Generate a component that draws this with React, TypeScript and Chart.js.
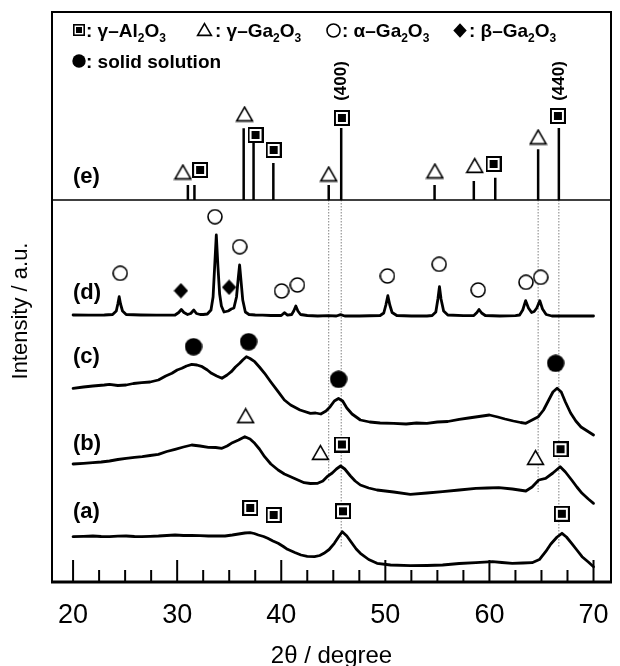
import React, { useEffect, useRef } from 'react';
import { Chart, registerables } from 'chart.js';

Chart.register(...registerables);

// ---------- axis ranges (2θ in degrees, intensity in arbitrary units) ----------
const X_MIN = 17.975;
const X_MAX = 71.68;
const Y_MIN = 0;
const Y_MAX = 570;

const xTickValues = [20, 30, 40, 50, 60, 70];
const xTickLabels = ['20', '30', '40', '50', '60', '70'];
const xMinorTicks = [22.5, 25, 27.5, 32.5, 35, 37.5, 42.5, 45, 47.5, 52.5, 55, 57.5, 62.5, 65, 67.5];

// ---------- pattern (a) ----------
const aX = [20.0, 21.0, 21.9, 22.7, 23.5, 24.3, 25.1, 25.9, 26.6, 27.4, 28.2, 29.0, 29.8, 30.6, 31.4, 32.2, 33.0, 33.8, 34.6, 35.3, 35.9, 36.5, 37.0, 37.4, 37.8, 38.3, 38.7, 39.2, 39.7, 40.2, 40.6, 41.3, 41.9, 42.5, 43.2, 43.7, 44.1, 44.6, 45.1, 45.5, 45.86, 46.3, 46.8, 47.2, 47.6, 48.4, 49.2, 50.5, 52.4, 54.0, 55.5, 57.1, 58.7, 60.3, 61.2, 62.2, 63.2, 64.1, 64.8, 65.4, 65.9, 66.5, 66.97, 67.4, 67.9, 68.4, 68.9, 69.5, 70.0];
const aY = [45.3, 45.7, 46, 45.5, 45.3, 45.8, 46, 45.5, 45.3, 45.7, 46, 46.5, 47, 46.5, 46.7, 46.3, 46, 46.2, 46, 47, 48, 49, 49.3, 48.5, 47, 45.5, 43.7, 41, 38.7, 35.5, 32.7, 29.5, 27, 25.7, 25.3, 26.5, 28.7, 32.5, 38.7, 45, 50.3, 46, 38.7, 33, 28.7, 22.5, 18.7, 17, 16.3, 16.5, 17, 18.5, 19.3, 20.3, 19.5, 18.7, 19, 19.3, 22.5, 30.3, 38, 45, 48.7, 45, 38.7, 32, 25.3, 20, 15.3];

// ---------- pattern (b) ----------
const bX = [20.0, 21.0, 21.9, 22.7, 23.5, 24.3, 25.1, 25.9, 26.65, 27.4, 28.2, 29.0, 29.8, 30.6, 31.4, 32.2, 33.0, 33.7, 34.3, 34.8, 35.2, 35.9, 36.5, 37.0, 37.45, 37.9, 38.4, 39.0, 39.7, 40.3, 40.9, 41.6, 42.2, 42.8, 43.5, 44.0, 44.4, 44.9, 45.3, 45.7, 46.1, 46.65, 47.1, 47.6, 48.4, 49.2, 50.8, 52.4, 54.0, 55.5, 57.1, 58.7, 59.8, 60.9, 62.2, 63.5, 64.1, 64.74, 65.4, 66.1, 66.8, 67.3, 67.9, 68.4, 68.9, 69.5, 70.0];
const bY = [118, 118.7, 119.3, 120, 121, 122.5, 123.7, 124.7, 125.3, 126.5, 127.7, 130.5, 132.7, 135, 137, 136, 134.7, 134.5, 133.7, 136, 138.7, 142, 145.3, 143, 138.7, 133, 125.3, 118, 112, 108, 105.3, 102, 99.3, 98.5, 98.7, 101, 105.3, 109, 113, 116, 113, 106, 101, 97, 94, 92, 90, 87.7, 89, 90.3, 92, 93.7, 94, 94.3, 93, 91, 95, 102, 103.7, 109, 115.3, 110, 102, 95, 88.7, 83, 78.7];

// ---------- pattern (c) ----------
const cX = [20.0, 21.0, 21.9, 23.0, 23.5, 24.3, 25.1, 25.8, 26.6, 27.4, 28.2, 28.9, 29.5, 30.0, 30.45, 30.9, 31.4, 31.9, 32.4, 32.9, 33.3, 33.8, 34.3, 34.8, 35.2, 35.6, 36.0, 36.3, 36.65, 37.0, 37.45, 37.9, 38.4, 39.0, 39.7, 40.3, 40.9, 41.8, 42.8, 43.3, 43.8, 44.3, 44.7, 45.1, 45.5, 45.9, 46.3, 46.8, 47.6, 48.5, 49.5, 50.8, 52.0, 53.0, 54.0, 55.0, 56.0, 57.1, 58.0, 59.0, 60.0, 60.8, 61.5, 62.3, 63.0, 63.5, 64.1, 64.7, 65.2, 65.7, 66.1, 66.5, 66.9, 67.3, 67.8, 68.3, 68.8, 69.4, 70.0];
const cY = [193.7, 195, 196, 197, 197.7, 196.5, 197, 198.5, 199.3, 200, 202, 206, 208.7, 212, 213.7, 216, 217.7, 217, 215.3, 212, 208.7, 206, 203.7, 207, 210.3, 215, 218.7, 222, 225.3, 223.5, 220.3, 215, 208.7, 200, 190.3, 182, 177, 172, 168.7, 169, 168, 171, 175.3, 181, 183.5, 181, 174, 168, 162, 160, 159, 158.7, 158, 159, 158.7, 160, 160.5, 162.7, 164, 165.5, 167, 165, 163, 161, 159.5, 158.7, 162, 165.3, 172, 182, 190, 193.7, 190, 180, 169, 161, 155, 151, 147];

// ---------- pattern (d) ----------
const dX = [20.0, 21.5, 23.0, 23.8, 24.15, 24.3, 24.43, 24.56, 24.75, 25.1, 26.5, 28.0, 29.8, 30.15, 30.4, 30.65, 31.0, 31.3, 31.6, 31.85, 32.2, 32.5, 32.9, 33.25, 33.45, 33.6, 33.76, 33.92, 34.08, 34.25, 34.5, 34.9, 35.2, 35.45, 35.7, 35.88, 36.0, 36.12, 36.3, 36.55, 36.9, 37.5, 38.2, 39.0, 40.0, 40.3, 40.6, 41.0, 41.2, 41.4, 41.6, 41.85, 42.5, 43.5, 44.5, 45.3, 45.7, 46.1, 47.5, 49.5, 49.85, 50.05, 50.24, 50.43, 50.65, 51.1, 52.5, 54.0, 54.5, 54.85, 55.05, 55.2, 55.35, 55.6, 56.0, 57.5, 58.5, 58.8, 59.0, 59.25, 59.6, 61.0, 62.5, 62.9, 63.2, 63.48, 63.75, 64.05, 64.3, 64.55, 64.84, 65.1, 65.45, 66.0, 68.0, 70.0];
const dY = [267, 266.8, 267, 267.5, 271, 278, 285.3, 278, 271, 267.5, 267, 266.8, 267, 269.5, 272.5, 269.5, 267.5, 268.5, 272, 268.5, 267.5, 267.5, 268, 272, 285, 315, 347, 315, 288, 276, 270, 271, 273, 274, 285, 305, 317, 303, 282, 270, 267.5, 267, 266.8, 266.5, 266.5, 269.3, 266.8, 267.5, 271, 276, 271, 267.5, 266.5, 266, 266.3, 266, 267.3, 266, 266, 266.5, 269, 277, 286.3, 277, 269.5, 266.5, 266, 266, 266.5, 270, 283, 295.3, 283, 271, 267, 266.3, 266.5, 269.5, 272.5, 269, 266.5, 266, 266.3, 267, 272, 281.3, 274, 269.5, 270.5, 274, 281.3, 273, 267.5, 266, 266, 266];

// ---------- reference pattern (e): stick lines ----------
const STICK_BASE = 382;
const stickX = [31.03, 31.66, 36.39, 37.34, 39.24, 44.56, 45.76, 54.73, 58.5, 60.56, 64.68, 66.67];
const stickTop = [397, 397, 453.7, 439, 419, 397, 454, 397, 401, 404.3, 432.7, 454];

// dotted guide lines
const guideX = [44.56, 45.76, 64.68, 66.67];
const guideBottom = [101, 35, 90, 35];

// ---------- phase markers ----------
const gAl2O3X = [32.2, 37.53, 39.27, 45.83, 60.4, 66.58, 45.83, 66.83, 37.02, 39.27, 45.93, 66.96];
const gAl2O3Y = [412, 447, 432, 464, 418, 466, 137.5, 132.8, 74, 67, 70.7, 68.2];
const gGa2O3X = [30.55, 36.48, 44.56, 54.76, 58.59, 64.68, 36.58, 43.76, 64.43];
const gGa2O3Y = [410, 468, 408, 411, 416.5, 445, 166.3, 129.5, 124.5];
const aGa2O3X = [24.53, 33.63, 36.01, 40.03, 41.55, 50.2, 55.17, 58.92, 63.51, 64.93];
const aGa2O3Y = [308.7, 365.3, 335.3, 291, 297, 306, 317.7, 292, 299.7, 304.7];
const bGa2O3X = [30.36, 34.99];
const bGa2O3Y = [291.3, 294.7];
const solidX = [31.57, 36.86, 45.51, 66.36];
const solidY = [235.3, 240.3, 202.7, 218.7];

const panelLabels = ['(e)', '(d)', '(c)', '(b)', '(a)'];
const hklLabels = ['(400)', '(440)'];
const hklX = [45.76, 66.67];

const FONT = 'Arial, "Liberation Sans", Helvetica, sans-serif';

type Icon = HTMLCanvasElement;

function makeCanvas(w: number, h: number) {
  const c = document.createElement('canvas');
  c.width = w;
  c.height = h;
  return c;
}

function boxIcon(w: number): Icon {
  const c = makeCanvas(w, w);
  const g = c.getContext('2d')!;
  g.fillStyle = '#fff';
  g.fillRect(0, 0, w, w);
  const lw = w > 13 ? 2 : 1.6;
  g.lineWidth = lw;
  g.strokeStyle = '#000';
  g.strokeRect(lw / 2, lw / 2, w - lw, w - lw);
  const inner = Math.round(w * 0.5);
  const o = (w - inner) / 2;
  g.fillStyle = '#000';
  g.fillRect(o, o, inner, inner);
  return c;
}

function triIcon(w: number, h: number): Icon {
  const c = makeCanvas(w, h);
  const g = c.getContext('2d')!;
  const lw = 1.6;
  g.beginPath();
  g.moveTo(w / 2, lw);
  g.lineTo(w - lw, h - lw);
  g.lineTo(lw, h - lw);
  g.closePath();
  g.fillStyle = '#fff';
  g.fill();
  g.lineWidth = lw;
  g.strokeStyle = '#000';
  g.lineJoin = 'miter';
  g.stroke();
  return c;
}

function openCircleIcon(d: number): Icon {
  const c = makeCanvas(d, d);
  const g = c.getContext('2d')!;
  g.beginPath();
  g.arc(d / 2, d / 2, d / 2 - 1, 0, Math.PI * 2);
  g.fillStyle = '#fff';
  g.fill();
  g.lineWidth = 1.6;
  g.strokeStyle = '#000';
  g.stroke();
  return c;
}

function filledCircleIcon(d: number): Icon {
  const c = makeCanvas(d, d);
  const g = c.getContext('2d')!;
  g.beginPath();
  g.arc(d / 2, d / 2, d / 2 - 0.3, 0, Math.PI * 2);
  g.fillStyle = '#000';
  g.fill();
  return c;
}

function diamondIcon(w: number, h: number): Icon {
  const c = makeCanvas(w, h);
  const g = c.getContext('2d')!;
  g.beginPath();
  g.moveTo(w / 2, 0.3);
  g.lineTo(w - 0.3, h / 2);
  g.lineTo(w / 2, h - 0.3);
  g.lineTo(0.3, h / 2);
  g.closePath();
  g.fillStyle = '#000';
  g.fill();
  return c;
}

const pts = (xs: number[], ys: number[]) => xs.map((x, i) => ({ x, y: ys[i] }));

type Part = { t: string; sub?: boolean };

function drawRich(ctx: CanvasRenderingContext2D, parts: Part[], x: number, baseline: number, size: number) {
  let cx = x;
  ctx.textAlign = 'left';
  ctx.textBaseline = 'alphabetic';
  for (const p of parts) {
    const s = p.sub ? Math.round(size * 0.64) : size;
    ctx.font = `bold ${s}px ${FONT}`;
    ctx.fillText(p.t, cx, baseline + (p.sub ? size * 0.24 : 0));
    cx += ctx.measureText(p.t).width;
  }
}

export default function App() {
  const ref = useRef<HTMLCanvasElement>(null);

  useEffect(() => {
    const boxM = boxIcon(16);
    const triM = triIcon(19, 17);
    const ocM = openCircleIcon(16);
    const fcM = filledCircleIcon(18);
    const diM = diamondIcon(15, 16);

    const boxL = boxIcon(12);
    const triL = triIcon(17, 15);
    const ocL = openCircleIcon(15);
    const fcL = filledCircleIcon(14);
    const diL = diamondIcon(14, 15);

    const stickData: { x: number; y: number | null }[] = [];
    stickX.forEach((x, i) => {
      stickData.push({ x, y: STICK_BASE }, { x, y: stickTop[i] }, { x, y: null });
    });
    const guideData: { x: number; y: number | null }[] = [];
    guideX.forEach((x, i) => {
      guideData.push({ x, y: STICK_BASE }, { x, y: guideBottom[i] }, { x, y: null });
    });

    const curve = (xs: number[], ys: number[]) => ({
      data: pts(xs, ys),
      showLine: true,
      borderColor: '#000',
      borderWidth: 2.8,
      pointRadius: 0,
      tension: 0,
      borderJoinStyle: 'round' as const,
      borderCapStyle: 'round' as const,
      order: 5,
    });
    const markers = (xs: number[], ys: number[], icon: Icon) => ({
      data: pts(xs, ys),
      showLine: false,
      pointStyle: icon,
      pointRadius: 8,
      order: 1,
    });

    const decor = {
      id: 'decor',
      afterDatasetsDraw(chart: any) {
        const { ctx, chartArea: a, scales } = chart;
        const xs = scales.x;
        const ys = scales.y;
        ctx.save();
        ctx.strokeStyle = '#000';
        ctx.fillStyle = '#000';
        ctx.lineCap = 'butt';

        // frame
        ctx.lineWidth = 2;
        ctx.beginPath();
        ctx.moveTo(a.left, a.bottom);
        ctx.lineTo(a.left, a.top);
        ctx.lineTo(a.right, a.top);
        ctx.lineTo(a.right, a.bottom);
        ctx.stroke();
        ctx.lineWidth = 3;
        ctx.beginPath();
        ctx.moveTo(a.left - 1, a.bottom);
        ctx.lineTo(a.right + 1, a.bottom);
        ctx.stroke();

        // divider between reference pattern and measured patterns
        const dy = ys.getPixelForValue(STICK_BASE);
        ctx.lineWidth = 1.5;
        ctx.beginPath();
        ctx.moveTo(a.left, dy);
        ctx.lineTo(a.right, dy);
        ctx.stroke();

        // ticks (inward)
        ctx.lineWidth = 2;
        ctx.beginPath();
        xTickValues.forEach((v) => {
          const px = xs.getPixelForValue(v);
          ctx.moveTo(px, a.bottom);
          ctx.lineTo(px, a.bottom - 22);
        });
        xMinorTicks.forEach((v) => {
          const px = xs.getPixelForValue(v);
          ctx.moveTo(px, a.bottom);
          ctx.lineTo(px, a.bottom - 12);
        });
        ctx.stroke();

        // tick labels
        ctx.font = `27px ${FONT}`;
        ctx.textAlign = 'center';
        ctx.textBaseline = 'alphabetic';
        xTickValues.forEach((v, i) => {
          ctx.fillText(xTickLabels[i], xs.getPixelForValue(v), a.bottom + 41);
        });

        // axis titles
        ctx.font = `24px ${FONT}`;
        ctx.fillText('2θ / degree', (a.left + a.right) / 2, 663);
        ctx.save();
        ctx.translate(21, 311);
        ctx.rotate(-Math.PI / 2);
        ctx.font = `22px ${FONT}`;
        ctx.textBaseline = 'middle';
        ctx.fillText('Intensity / a.u.', 0, 0);
        ctx.restore();

        // panel labels
        ctx.font = `bold 22px ${FONT}`;
        ctx.textAlign = 'left';
        const labelBase = [183, 299, 363, 450, 518];
        panelLabels.forEach((t, i) => ctx.fillText(t, 73, labelBase[i]));

        // hkl labels
        hklLabels.forEach((t, i) => {
          ctx.save();
          ctx.translate(xs.getPixelForValue(hklX[i]), 81);
          ctx.rotate(-Math.PI / 2);
          ctx.font = `bold 17px ${FONT}`;
          ctx.textAlign = 'center';
          ctx.textBaseline = 'middle';
          ctx.fillText(t, 0, 0);
          ctx.restore();
        });

        // legend
        const put = (img: Icon, cx: number, cy: number) =>
          ctx.drawImage(img, Math.round(cx - img.width / 2), Math.round(cy - img.height / 2));
        const L = 19;
        put(boxL, 79, 30);
        drawRich(ctx, [{ t: ': γ–Al' }, { t: '2', sub: true }, { t: 'O' }, { t: '3', sub: true }], 86, 37, L);
        put(triL, 204.5, 29);
        drawRich(ctx, [{ t: ': γ–Ga' }, { t: '2', sub: true }, { t: 'O' }, { t: '3', sub: true }], 215, 37, L);
        put(ocL, 333, 30);
        drawRich(ctx, [{ t: ': α–Ga' }, { t: '2', sub: true }, { t: 'O' }, { t: '3', sub: true }], 342, 37, L);
        put(diL, 460, 30);
        drawRich(ctx, [{ t: ': β–Ga' }, { t: '2', sub: true }, { t: 'O' }, { t: '3', sub: true }], 469, 37, L);
        put(fcL, 79, 61);
        drawRich(ctx, [{ t: ': solid solution' }], 86, 68, L);

        ctx.restore();
      },
    };

    const chart = new Chart(ref.current!, {
      type: 'scatter',
      data: {
        datasets: [
          {
            data: guideData,
            showLine: true,
            borderColor: '#808080',
            borderWidth: 1,
            borderDash: [1.5, 1.5],
            pointRadius: 0,
            spanGaps: false,
            order: 10,
          } as any,
          {
            data: stickData,
            showLine: true,
            borderColor: '#000',
            borderWidth: 2.5,
            pointRadius: 0,
            spanGaps: false,
            borderCapStyle: 'butt',
            order: 5,
          } as any,
          curve(aX, aY),
          curve(bX, bY),
          curve(cX, cY),
          curve(dX, dY),
          markers(gAl2O3X, gAl2O3Y, boxM),
          markers(gGa2O3X, gGa2O3Y, triM),
          markers(aGa2O3X, aGa2O3Y, ocM),
          markers(bGa2O3X, bGa2O3Y, diM),
          markers(solidX, solidY, fcM),
        ] as any,
      },
      options: {
        responsive: false,
        maintainAspectRatio: false,
        animation: false,
        events: [],
        layout: { padding: { left: 52, right: 3, top: 12, bottom: 84 } },
        scales: {
          x: { type: 'linear', min: X_MIN, max: X_MAX, display: false },
          y: { type: 'linear', min: Y_MIN, max: Y_MAX, display: false },
        },
        plugins: {
          legend: { display: false },
          tooltip: { enabled: false },
        },
      },
      plugins: [decor],
    });
    return () => chart.destroy();
  }, []);

  return (
    <div style={{ position: 'absolute', left: 0, top: 0, width: 620, height: 666, background: '#fff' }}>
      <canvas ref={ref} width={620} height={666} style={{ display: 'block', width: 620, height: 666 }} />
    </div>
  );
}
